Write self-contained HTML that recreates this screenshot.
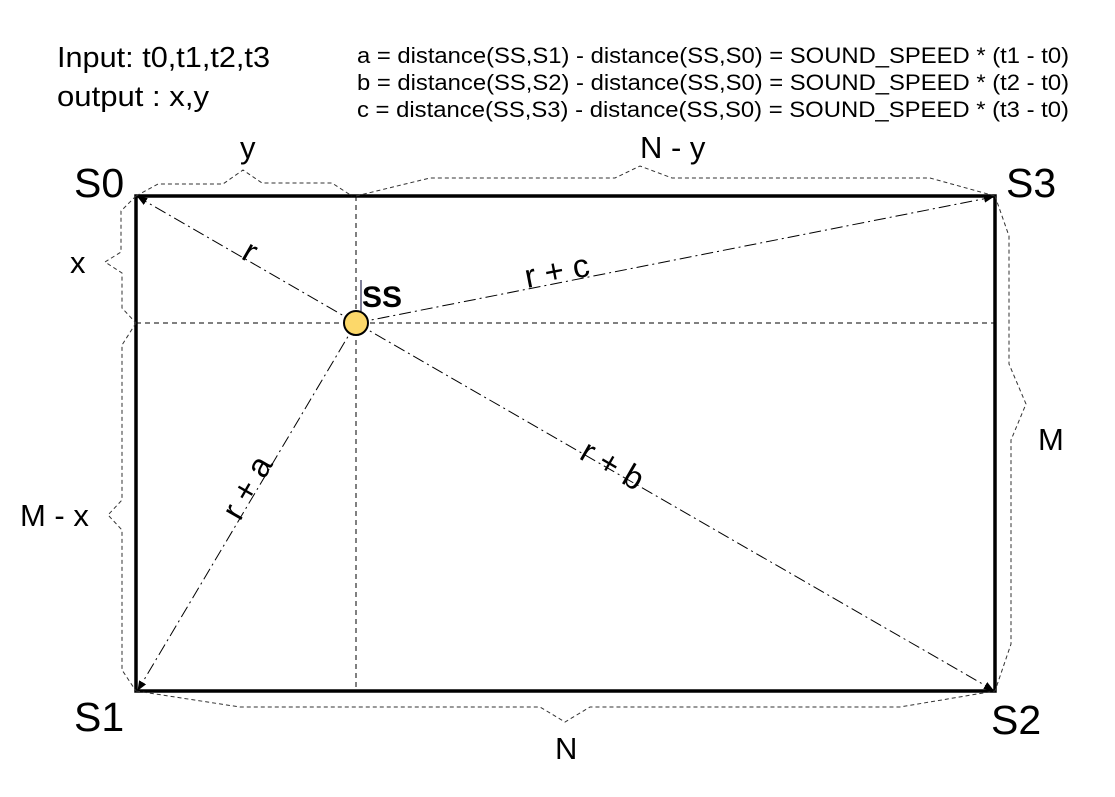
<!DOCTYPE html>
<html><head><meta charset="utf-8"><style>
body{margin:0;background:#fff}
svg{display:block;font-family:"Liberation Sans",sans-serif}
</style></head><body>
<svg width="1115" height="797" viewBox="0 0 1115 797">
<defs><marker id="ar" markerWidth="10" markerHeight="8" refX="9" refY="4" orient="auto" markerUnits="userSpaceOnUse"><path d="M0,0 L10,4 L0,8 z" fill="#000"/></marker></defs>
<g font-size="29">
<text x="57" y="67" textLength="213" lengthAdjust="spacingAndGlyphs">Input: t0,t1,t2,t3</text>
<text x="57" y="106" textLength="152" lengthAdjust="spacingAndGlyphs">output : x,y</text>
</g>
<g font-size="22">
<text x="357" y="63" textLength="712" lengthAdjust="spacingAndGlyphs">a = distance(SS,S1) - distance(SS,S0) = SOUND_SPEED * (t1 - t0)</text>
<text x="357" y="90" textLength="712" lengthAdjust="spacingAndGlyphs">b = distance(SS,S2) - distance(SS,S0) = SOUND_SPEED * (t2 - t0)</text>
<text x="357" y="117" textLength="712" lengthAdjust="spacingAndGlyphs">c = distance(SS,S3) - distance(SS,S0) = SOUND_SPEED * (t3 - t0)</text>
</g>
<g stroke="#000" stroke-width="1" stroke-dasharray="5,4" fill="none">
<line x1="356" y1="196" x2="356" y2="691"/>
<line x1="136" y1="323" x2="995" y2="323"/>
</g>
<rect x="136" y="196" width="859" height="495" fill="none" stroke="#000" stroke-width="3.5"/>
<g stroke="#000" stroke-width="1" stroke-dasharray="12,4,2,4" fill="none">
<line x1="356" y1="323" x2="138" y2="197" marker-end="url(#ar)"/>
<line x1="356" y1="323" x2="993" y2="197" marker-end="url(#ar)"/>
<line x1="356" y1="323" x2="993" y2="690" marker-end="url(#ar)"/>
<line x1="356" y1="323" x2="138" y2="690" marker-end="url(#ar)"/>
</g>
<g stroke="#333" stroke-width="1" stroke-dasharray="4,3" fill="none">
<polyline points="136,196 158,184 223,184 243,170 262,183 332,183 352,196"/>
<polyline points="356,196 430,178 615,178 640,166 672,178 930,178 995,196"/>
<polyline points="136,196 121,211 121,252 105,262 122,273 122,308 136,323"/>
<polyline points="136,323 122,345 122,500 108,515 122,530 122,670 136,691"/>
<polyline points="995,196 1009,236 1009,364 1026,404 1011,440 1011,644 995,691"/>
<polyline points="136,691 240,707 540,707 565,722 590,707 900,707 995,691"/>
</g>
<g font-size="41">
<text x="74" y="197">S0</text>
<text x="1006" y="197">S3</text>
<text x="74" y="731">S1</text>
<text x="991" y="734">S2</text>
</g>
<g font-size="31">
<text x="240" y="158">y</text>
<text x="640" y="158">N - y</text>
<text x="70" y="273">x</text>
<text x="20" y="526">M - x</text>
<text x="1038" y="450">M</text>
<text x="555" y="759">N</text>
</g>
<g font-size="33">
<text transform="translate(240,258) rotate(30)">r</text>
<text transform="translate(527,288) rotate(-11)">r + c</text>
<text transform="translate(578,458) rotate(30)">r + b</text>
<text transform="translate(240,522) rotate(-60)">r + a</text>
</g>
<line x1="361" y1="280" x2="361" y2="321" stroke="#003" stroke-width="1"/>
<circle cx="356" cy="323" r="12" fill="#fcd86a" stroke="#000" stroke-width="2"/>
<text x="362" y="307" font-size="30" font-weight="bold">SS</text>
</svg>
</body></html>
